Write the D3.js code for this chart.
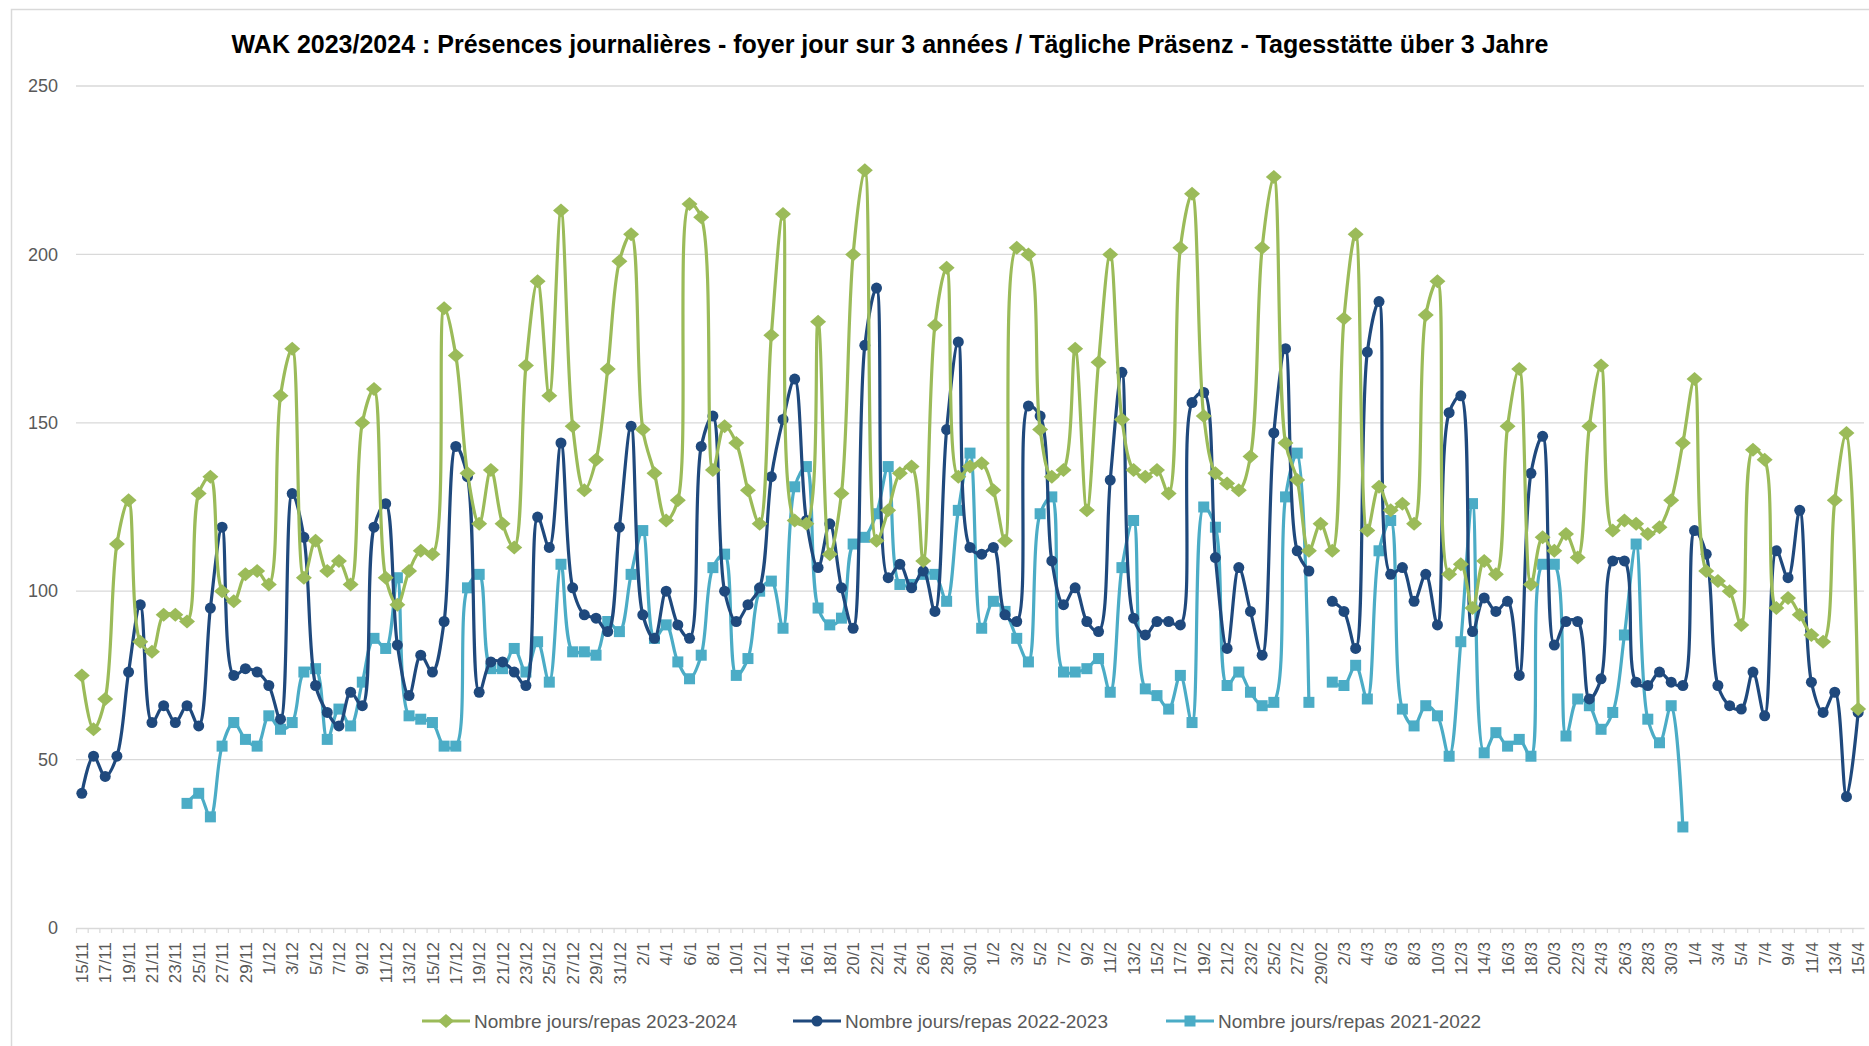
<!DOCTYPE html>
<html lang="fr">
<head>
<meta charset="utf-8">
<style>
  body { margin: 0; background: #fff; }
  svg { font-family: 'Liberation Sans', Arial, sans-serif; }
  .grid line { stroke: #d9d9d9; stroke-width: 1.3; }
</style>
</head>
<body>
<svg width="1869" height="1046"></svg>
<script src="https://cdn.jsdelivr.net/npm/d3@7"></script>
<script>
// categories: every day from 15/11 to 15/4
const days = [
  "15/11","16/11","17/11","18/11","19/11","20/11","21/11","22/11","23/11","24/11","25/11","26/11","27/11","28/11","29/11","30/11",
  "1/12","2/12","3/12","4/12","5/12","6/12","7/12","8/12","9/12","10/12","11/12","12/12","13/12","14/12","15/12","16/12",
  "17/12","18/12","19/12","20/12","21/12","22/12","23/12","24/12","25/12","26/12","27/12","28/12","29/12","30/12","31/12",
  "1/1","2/1","3/1","4/1","5/1","6/1","7/1","8/1","9/1","10/1","11/1","12/1","13/1","14/1","15/1","16/1",
  "17/1","18/1","19/1","20/1","21/1","22/1","23/1","24/1","25/1","26/1","27/1","28/1","29/1","30/1","31/1",
  "1/2","2/2","3/2","4/2","5/2","6/2","7/2","8/2","9/2","10/2","11/2","12/2","13/2","14/2","15/2","16/2",
  "17/2","18/2","19/2","20/2","21/2","22/2","23/2","24/2","25/2","26/2","27/2","28/2","29/02",
  "1/3","2/3","3/3","4/3","5/3","6/3","7/3","8/3","9/3","10/3","11/3","12/3","13/3","14/3","15/3","16/3",
  "17/3","18/3","19/3","20/3","21/3","22/3","23/3","24/3","25/3","26/3","27/3","28/3","29/3","30/3","31/3",
  "1/4","2/4","3/4","4/4","5/4","6/4","7/4","8/4","9/4","10/4","11/4","12/4","13/4","14/4","15/4"
];

const s2324 = [
  75, 59, 68, 114, 127, 85, 82, 93, 93, 91, 129, 134, 100, 97, 105, 106, 102, 158, 172, 104, 115, 106, 109, 102, 150, 160, 104,
  96, 106, 112, 111, 184, 170, 135, 120, 136, 120, 113, 167, 192, 158, 213, 149, 130, 139, 166, 198, 206, 148, 135, 121, 127, 215, 211,
  136, 149, 144, 130, 120, 176, 212, 121, 120, 180, 111, 129, 200, 225, 115, 124, 135, 137, 109, 179, 196, 134, 137, 138, 130, 115,
  202, 200, 148, 134, 136, 172, 124, 168, 200, 151, 136, 134, 136, 129, 202, 218, 152, 135, 132, 130, 140, 202, 223, 144, 133, 112, 120,
  112, 181, 206, 118, 131, 124, 126, 120, 182, 192, 105, 108, 95, 109, 105, 149, 166, 102, 116, 112, 117, 110, 149, 167, 118, 121,
  120, 117, 119, 127, 144, 163, 106, 103, 100, 90, 142, 139, 95, 98, 93, 87, 85, 127, 147, 65
];

const s2223 = [
  40, 51, 45, 51, 76, 96, 61, 66, 61, 66, 60, 95, 119, 75, 77, 76, 72, 62, 129, 116, 72, 64, 60, 70, 66, 119, 126,
  84, 69, 81, 76, 91, 143, 134, 70, 79, 79, 76, 72, 122, 113, 144, 101, 93, 92, 88, 119, 149, 93, 86, 100, 90, 86, 143,
  152, 100, 91, 96, 101, 134, 151, 163, 121, 107, 120, 101, 89, 173, 190, 104, 108, 101, 106, 94, 148, 174, 113, 111, 113, 93,
  91, 155, 152, 109, 96, 101, 91, 88, 133, 165, 92, 87, 91, 91, 90, 156, 159, 110, 83, 107, 94, 81, 147, 172, 112, 106, null,
  97, 94, 83, 171, 186, 105, 107, 97, 105, 90, 153, 158, 88, 98, 94, 97, 75, 135, 146, 84, 91, 91, 68, 74, 109, 109,
  73, 72, 76, 73, 72, 118, 111, 72, 66, 65, 76, 63, 112, 104, 124, 73, 64, 70, 39, 64
];

const s2122 = [
  null, null, null, null, null, null, null, null, null,
  37, 40, 33, 54, 61, 56, 54, 63, 59, 61, 76, 77, 56, 65, 60, 73, 86, 83,
  104, 63, 62, 61, 54, 54, 101, 105, 77, 77, 83, 76, 85, 73, 108, 82, 82, 81, 91, 88, 105, 118, 86, 90, 79, 74, 81,
  107, 111, 75, 80, 100, 103, 89, 131, 137, 95, 90, 92, 114, 116, 123, 137, 102, 102, 105, 105, 97, 124, 141, 89, 97, 94,
  86, 79, 123, 128, 76, 76, 77, 80, 70, 107, 121, 71, 69, 65, 75, 61, 125, 119, 72, 76, 70, 66, 67, 128, 141, 67, null,
  73, 72, 78, 68, 112, 121, 65, 60, 66, 63, 51, 85, 126, 52, 58, 54, 56, 51, 108, 108, 57, 68, 66, 59, 64, 87,
  114, 62, 55, 66, 30,
  null, null, null, null, null, null, null, null, null, null, null, null, null, null, null
];

const yTicks = [0, 50, 100, 150, 200, 250];
const seriesNames = ["Nombre jours/repas 2023-2024", "Nombre jours/repas 2022-2023", "Nombre jours/repas 2021-2022"];
const colors = ["#9bbb59", "#1f497d", "#4bacc6"];
const shapes = ["diamond", "circle", "square"];

const svg = d3.select("svg");
const margin = { left: 76, right: 5, top: 86, bottom: 118 };
const W = 1869, H = 1046;

// chart border
svg.append("rect")
  .attr("x", 11.5).attr("y", 9.5)
  .attr("width", W).attr("height", H)
  .attr("fill", "none").attr("stroke", "#d9d9d9").attr("stroke-width", 1.5);

svg.append("text")
  .attr("x", 890).attr("y", 53)
  .attr("text-anchor", "middle")
  .attr("font-weight", "bold")
  .attr("font-size", 25)
  .attr("fill", "#000")
  .text("WAK 2023/2024 : Présences journalières - foyer jour sur 3 années / Tägliche Präsenz - Tagesstätte über 3 Jahre");

const x = d3.scaleBand().domain(days).range([margin.left, W - margin.right]).padding(0);
const y = d3.scaleLinear().domain([0, 250]).range([H - margin.bottom, margin.top]);
const cx = d => x(d) + x.bandwidth() / 2;

// grid
const grid = svg.append("g").attr("class", "grid");
grid.selectAll("line").data(yTicks.filter(t => t > 0)).join("line")
  .attr("x1", margin.left).attr("x2", W - margin.right)
  .attr("y1", d => y(d)).attr("y2", d => y(d));

// y axis labels
const yAxis = d3.axisLeft(y).tickValues(yTicks).tickSize(0).tickPadding(18);
svg.append("g").attr("transform", `translate(${margin.left},0)`).call(yAxis)
  .call(g => g.select(".domain").remove())
  .call(g => g.selectAll("text").attr("fill", "#595959").attr("font-size", 18).attr("font-family", "'Liberation Sans', Arial, sans-serif"));

// x axis
const xAxis = d3.axisBottom(x)
  .tickValues(days.filter((d, i) => i % 2 === 0))
  .tickSize(0).tickPadding(6);
const gx = svg.append("g").attr("transform", `translate(0,${y(0)})`).call(xAxis);
gx.select(".domain").attr("stroke", "#d9d9d9").attr("stroke-width", 1.5);
gx.selectAll("text")
  .attr("fill", "#595959").attr("font-size", 17)
  .attr("font-family", "'Liberation Sans', Arial, sans-serif")
  .attr("transform", "rotate(-90)")
  .attr("text-anchor", "end")
  .attr("x", -14).attr("y", 0).attr("dy", "0.36em");
// minor tick marks on every category boundary
gx.append("g").selectAll("line").data(days).join("line")
  .attr("x1", d => x(d) + 0.5).attr("x2", d => x(d) + 0.5)
  .attr("y1", 0).attr("y2", 5)
  .attr("stroke", "#d9d9d9").attr("stroke-width", 1.2);

const all = [s2324, s2223, s2122];

function drawMarker(g, shape, color) {
  if (shape === "diamond") {
    g.append("path").attr("d", "M0,-7 L8,0 L0,7 L-8,0 Z").attr("fill", color);
  } else if (shape === "circle") {
    g.append("circle").attr("r", 5.5).attr("fill", color);
  } else {
    g.append("rect").attr("x", -5.5).attr("y", -5.5).attr("width", 11).attr("height", 11).attr("fill", color);
  }
}

const line = d3.line()
  .defined(d => d.v !== null)
  .x(d => cx(d.day))
  .y(d => y(d.v))
  .curve(d3.curveCatmullRom.alpha(0.5));

// draw oldest series first so 2023-2024 sits on top
[2, 1, 0].forEach(k => {
  const pts = days.map((d, i) => ({ day: d, v: all[k][i] }));
  const g = svg.append("g");
  g.append("path").datum(pts)
    .attr("d", line)
    .attr("fill", "none")
    .attr("stroke", colors[k])
    .attr("stroke-width", 3.2)
    .attr("stroke-linejoin", "round");
  g.selectAll("g.m").data(pts.filter(p => p.v !== null)).join("g")
    .attr("class", "m")
    .attr("transform", p => `translate(${cx(p.day)},${y(p.v)})`)
    .each(function () { drawMarker(d3.select(this), shapes[k], colors[k]); });
});

// legend
const legendX = [422, 793, 1166];
const legendY = 1021;
seriesNames.forEach((name, k) => {
  const g = svg.append("g").attr("transform", `translate(${legendX[k]},${legendY})`);
  g.append("line").attr("x1", 0).attr("x2", 48).attr("stroke", colors[k]).attr("stroke-width", 3.2);
  const m = g.append("g").attr("transform", "translate(24,0)");
  drawMarker(m, shapes[k], colors[k]);
  g.append("text").attr("x", 52).attr("dy", "0.35em")
    .attr("font-size", 19).attr("fill", "#595959")
    .text(name);
});
</script>
</body>
</html>
